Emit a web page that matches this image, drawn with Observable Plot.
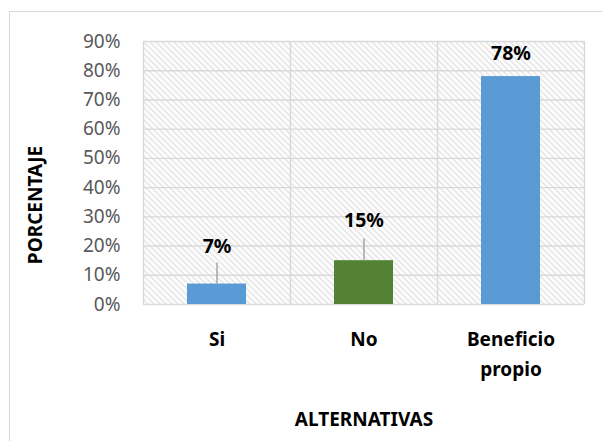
<!DOCTYPE html>
<html><head><meta charset="utf-8">
<script src="https://cdn.jsdelivr.net/npm/d3@7"></script>
<script src="https://cdn.jsdelivr.net/npm/@observablehq/plot@0.6"></script>
<style>
body{margin:0;background:#fff;}
#wrap{position:relative;width:602px;height:441px;overflow:hidden;background:#fff;}
#border{position:absolute;left:9px;top:11px;width:700px;height:600px;border:1.4px solid #d9d9d9;box-sizing:border-box;}
#chart{position:absolute;left:0;top:0;}
</style></head><body><div id="wrap"><div id="border"></div><div id="chart"></div></div>
<script>
const categories = ["Si", "No", "Beneficio propio"];
const values = [0.07, 0.15, 0.78];
const valueLabels = ["7%", "15%", "78%"];
const yTicks = [0, 0.1, 0.2, 0.3, 0.4, 0.5, 0.6, 0.7, 0.8, 0.9];

const colors = ["#5B9BD5", "#548235", "#5B9BD5"];
const labelDy = [-37, -40, -23];
const leader = [21, 22, 0];

const data = categories.map((c, i) => ({cat: c, value: values[i], label: valueLabels[i], i}));

const W = 602, H = 441, ML = 143, MR = 18, MT = 41, MB = 137;
const step = (W - ML - MR) / categories.length;
const font = "'Noto Sans', 'Open Sans', sans-serif";

const marks = [
  Plot.frame({fill: "url(#hatch)", stroke: null}),
  Plot.gridY(yTicks, {stroke: "#d9d9d9", strokeOpacity: 1, strokeWidth: 1.4}),
  Plot.ruleX(categories, {x: d => d, dx: -step / 2, stroke: "#d9d9d9", strokeWidth: 1.4}),
  Plot.ruleX(categories.slice(-1), {x: d => d, dx: step / 2, stroke: "#d9d9d9", strokeWidth: 1.4}),
  Plot.barY(data, {x: "cat", y: "value", fill: d => colors[d.i]}),
  Plot.axisY(yTicks, {tickFormat: d => Math.round(d * 100) + "%", tickSize: 0, tickPadding: 23, fontSize: 19, fill: "#595959", label: null}),
  Plot.axisX({tickSize: 0, tickPadding: 20, fontSize: 19, fontWeight: "bold", fill: "#000", lineHeight: 1.58, tickFormat: d => d.replace(" ", "\n"), label: null}),
  Plot.text(["ALTERNATIVAS"], {frameAnchor: "bottom", dy: 121, fontSize: 19, fontWeight: "bold", fill: "#000"}),
  Plot.text(["PORCENTAJE"], {frameAnchor: "left", textAnchor: "middle", rotate: -90, dx: -108, dy: 32, fontSize: 19, fontWeight: "bold", fill: "#000"})
];
data.forEach((d, k) => {
  if (leader[k] > 0) {
    marks.push(Plot.ruleX([d], {x: "cat", y1: "value", y2: "value", insetTop: -leader[k], stroke: "#a6a6a6", strokeWidth: 1.5}));
  }
  marks.push(Plot.text([d], {x: "cat", y: "value", text: "label", dy: labelDy[k], fontSize: 19.5, fontWeight: "bold", fill: "#000"}));
});

const svg = Plot.plot({
  width: W, height: H,
  marginLeft: ML, marginRight: MR, marginTop: MT, marginBottom: MB,
  style: {fontFamily: font, background: "transparent"},
  x: {domain: categories, paddingInner: 0.6, paddingOuter: 0.3, axis: null},
  y: {domain: [0, 0.9], axis: null},
  marks
});
const ns = "http://www.w3.org/2000/svg";
const defs = document.createElementNS(ns, "defs");
defs.innerHTML = '<pattern id="hatch" width="6" height="6" patternUnits="userSpaceOnUse"><path d="M-1.5,-1.5 L7.5,7.5 M4.5,-1.5 L7.5,1.5 M-1.5,4.5 L1.5,7.5" stroke="#dedede" stroke-width="1.3"/></pattern>';
svg.insertBefore(defs, svg.firstChild);
document.getElementById("chart").appendChild(svg);
</script></body></html>
